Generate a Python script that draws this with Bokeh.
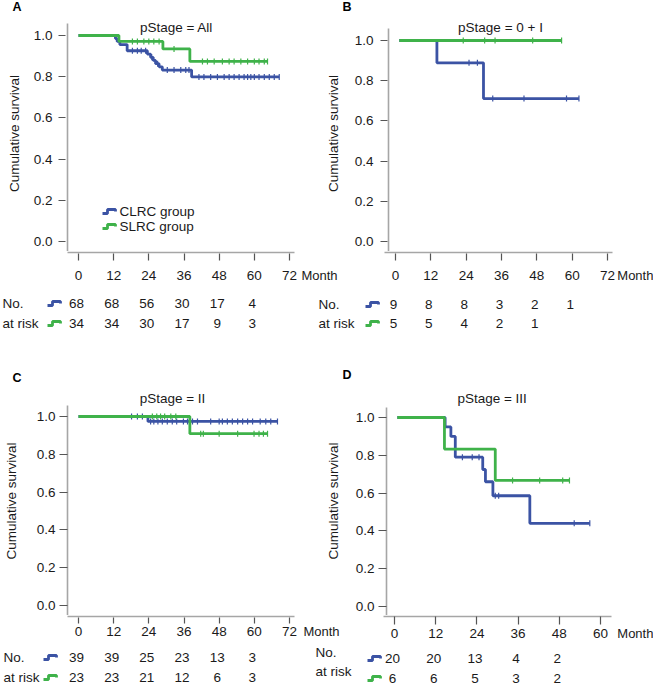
import numpy as np
from bokeh.plotting import figure
from bokeh.models import Range1d, FixedTicker, NumeralTickFormatter, LinearAxis
from bokeh.layouts import column, row
from bokeh.embed import file_html
from bokeh.resources import INLINE
from bokeh.core.properties import value

FONT = "Liberation Sans"
FS = "13.5px"
FS_UNIT = "13px"
BLUE = "#3b53a4"
GREEN = "#3fb24a"
AXIS = "#a6a6a6"
TICK = "#555555"
TXT = "#1a1a1a"
LW = 2.8

# ---------------- data ----------------
titles = ["pStage = All", "pStage = 0 + I", "pStage = II", "pStage = III"]
letters = ["A", "B", "C", "D"]
group_names = ["CLRC group", "SLRC group"]
row_labels = ["No.", "at risk"]
x_ticks_72 = [0, 12, 24, 36, 48, 60, 72]
x_ticks_60 = [0, 12, 24, 36, 48, 60]
y_ticks = [0.0, 0.2, 0.4, 0.6, 0.8, 1.0]
x_unit = "Month"

# Panel A (pStage = All)
A_clrc_t = [12.6, 13.2, 14.1, 16.6, 23.5, 24.6, 25.5, 26.3, 27.5, 28.6, 38.6]
A_clrc_s = [0.985, 0.971, 0.956, 0.926, 0.910, 0.894, 0.879, 0.863, 0.848, 0.832, 0.799]
A_clrc_end = 68.5
A_clrc_cens = [18.4, 20.1, 21.4, 22.9, 25.0, 27.0, 30.3, 32.6, 34.9, 36.6, 37.7, 41.1,
               42.8, 45.1, 47.4, 49.7, 51.4, 53.1, 54.8, 56.5, 57.7, 58.8, 60.0, 61.6,
               63.4, 65.1, 66.8, 68.5]
A_slrc_t = [13.8, 28.8, 38.0]
A_slrc_s = [0.971, 0.935, 0.874]
A_slrc_end = 64.5
A_slrc_cens = [18.4, 20.1, 22.3, 24.0, 25.7, 27.5, 32.6, 42.3, 44.0, 46.3, 49.1, 51.4,
               53.1, 55.4, 57.7, 60.0, 61.6, 63.4, 64.5]
A_risk_months = [0, 12, 24, 36, 48, 60]
A_risk_clrc = [68, 68, 56, 30, 17, 4]
A_risk_slrc = [34, 34, 30, 17, 9, 3]

# Panel B (pStage = 0 + I)
B_clrc_t = [13.0, 29.1]
B_clrc_s = [0.889, 0.711]
B_clrc_end = 62.1
B_clrc_cens = [24.1, 27.0, 32.3, 43.1, 57.8, 62.1]
B_slrc_t = []
B_slrc_s = []
B_slrc_end = 56.1
B_slrc_cens = [22.1, 29.5, 33.1, 46.1, 56.1]
B_risk_months_clrc = [0, 12, 24, 36, 48, 60]
B_risk_months_slrc = [0, 12, 24, 36, 48]
B_risk_clrc = [9, 8, 8, 3, 2, 1]
B_risk_slrc = [5, 5, 4, 2, 1]

# Panel C (pStage = II)
C_clrc_t = [23.7]
C_clrc_s = [0.974]
C_clrc_end = 67.9
C_clrc_cens = [18.1, 20.1, 21.8, 24.6, 25.7, 27.1, 28.6, 30.3, 32.0, 33.5, 35.8, 37.2,
               38.9, 40.6, 45.1, 48.0, 49.1, 50.8, 52.5, 54.3, 56.0, 57.7, 59.4, 62.0,
               63.9, 65.6, 67.9]
C_slrc_t = [38.0]
C_slrc_s = [0.909]
C_slrc_end = 64.5
C_slrc_cens = [25.2, 26.7, 28.0, 29.4, 31.5, 33.2, 41.7, 42.6, 48.0, 54.3, 59.9, 61.6,
               63.1, 64.5]
C_risk_months = [0, 12, 24, 36, 48, 60]
C_risk_clrc = [39, 39, 25, 23, 13, 3]
C_risk_slrc = [23, 23, 21, 12, 6, 3]

# Panel D (pStage = III)
D_clrc_t = [14.1, 15.8, 17.1, 25.2, 26.0, 28.2, 39.1]
D_clrc_s = [0.95, 0.90, 0.79, 0.725, 0.66, 0.586, 0.44]
D_clrc_end = 56.8
D_clrc_cens = [19.2, 22.1, 24.1, 28.9, 29.9, 52.2, 56.8]
D_slrc_t = [13.9, 28.9]
D_slrc_s = [0.833, 0.667]
D_slrc_end = 50.8
D_slrc_cens = [34.0, 42.0, 48.8, 50.8]
D_risk_months = [0, 12, 24, 36, 48]
D_risk_clrc = [20, 20, 13, 4, 2]
D_risk_slrc = [6, 6, 5, 3, 2]

# ---------------- layout geometry (pixels) ----------------
ROWS = {"top": dict(head=(0, 15), up=(15, 251), mid=(251, 288), tab=(288, 340)),
        "bot": dict(head=(340, 386), up=(386, 615), mid=(615, 645), tab=(645, 686))}
COLS = {"left": dict(head=(0, 326), up=(0, 322), mid=(0, 341), tab=(0, 314)),
        "right": dict(head=(326, 653), up=(322, 653), mid=(341, 653), tab=(314, 653))}

panels = [
    dict(letter=letters[0], title=titles[0], ticks=x_ticks_72, row="top", col="left",
         clrc=(A_clrc_t, A_clrc_s, A_clrc_end, A_clrc_cens),
         slrc=(A_slrc_t, A_slrc_s, A_slrc_end, A_slrc_cens),
         risk=((A_risk_months, A_risk_clrc), (A_risk_months, A_risk_slrc)),
         g=dict(fl=67, fr=294, ft=23, px0=78, pxN=289, py1=35, py0=241,
                letter=(12, 6), title=(176, 27),
                ytin=-2, ytout=9, ystand=6, yals=9, xtin=-1, xtout=8,
                mstand=10, month_c=319,
                rows=(303, 323), lrows=(303, 323), lx=2, icon=47),
         legend=True),
    dict(letter=letters[1], title=titles[1], ticks=x_ticks_72, row="top", col="right",
         clrc=(B_clrc_t, B_clrc_s, B_clrc_end, B_clrc_cens),
         slrc=(B_slrc_t, B_slrc_s, B_slrc_end, B_slrc_cens),
         risk=((B_risk_months_clrc, B_risk_clrc), (B_risk_months_slrc, B_risk_slrc)),
         g=dict(fl=384, fr=612, ft=28, px0=395, pxN=607, py1=40, py0=241,
                letter=(342, 6), title=(498, 27),
                ytin=-1, ytout=8, ystand=7, yals=11, xtin=-1, xtout=8,
                mstand=10, month_c=635,
                rows=(304, 323), lrows=(304, 323), lx=318, icon=365),
         legend=False),
    dict(letter=letters[2], title=titles[2], ticks=x_ticks_72, row="bot", col="left",
         clrc=(C_clrc_t, C_clrc_s, C_clrc_end, C_clrc_cens),
         slrc=(C_slrc_t, C_slrc_s, C_slrc_end, C_slrc_cens),
         risk=((C_risk_months, C_risk_clrc), (C_risk_months, C_risk_slrc)),
         g=dict(fl=67, fr=294, ft=405, px0=78, pxN=289, py1=416, py0=605,
                letter=(12, 377), title=(172, 398),
                ytin=0, ytout=8, ystand=4, yals=15, xtin=-1, xtout=7,
                mstand=3, month_c=321,
                rows=(657, 677), lrows=(657, 677), lx=3, icon=43),
         legend=False),
    dict(letter=letters[3], title=titles[3], ticks=x_ticks_60, row="bot", col="right",
         clrc=(D_clrc_t, D_clrc_s, D_clrc_end, D_clrc_cens),
         slrc=(D_slrc_t, D_slrc_s, D_slrc_end, D_slrc_cens),
         risk=((D_risk_months, D_risk_clrc), (D_risk_months, D_risk_slrc)),
         g=dict(fl=383, fr=611, ft=407, px0=394, pxN=600, py1=417, py0=606,
                letter=(342, 374), title=(490, 398),
                ytin=0, ytout=8, ystand=4, yals=12, xtin=0, xtout=8,
                mstand=4, month_c=635,
                rows=(658, 678), lrows=(652, 671), lx=315, icon=367),
         legend=False),
]

ICON = [(0, 2), (5, 2), (5, -2), (13, -2), (13, 0)]
LABEL_H = 15


def km_xy(t, s, end):
    xs = [0.0] + list(t) + [end]
    ys = [1.0] + list(s) + [s[-1] if len(s) else 1.0]
    return xs, ys


def km_at(times, t, s):
    out = []
    for c in times:
        v = 1.0
        for ti, si in zip(t, s):
            if ti <= c:
                v = si
        out.append(v)
    return out


def base_fig(w, h, **kw):
    p = figure(width=int(w), height=int(h), toolbar_location=None, output_backend="svg",
               outline_line_color=None, background_fill_color="white",
               border_fill_color="white", **kw)
    p.grid.visible = False
    return p


def txt(p, x, y, s, align="left", size=FS, style="normal", color=TXT, xoff=0):
    p.text(x=x, y=y, text=s, x_offset=xoff, text_font=value(FONT),
           text_font_size=value(size), text_font_style=value(style), text_color=color,
           text_align=align, text_baseline="middle")


def make_panel(P):
    g = P["g"]
    cx = COLS[P["col"]]
    ry = ROWS[P["row"]]
    tN = P["ticks"][-1]
    ppm = (g["pxN"] - g["px0"]) / tN
    ppu = g["py0"] - g["py1"]

    def X(px):
        return (px - g["px0"]) / ppm

    def Y(py):
        return (g["py0"] - py) / ppu

    # ---- header: panel letter ----
    L, R = cx["head"]
    T, B = ry["head"]
    h = base_fig(R - L, B - T, x_range=Range1d(0, R - L), y_range=Range1d(B - T, 0),
                 min_border=0, x_axis_location=None, y_axis_location=None)
    txt(h, [g["letter"][0] - L], [g["letter"][1] - T], [P["letter"]], size="12.5px",
        style="bold", color="black")

    # ---- upper: curves + y axis ----
    L, R = cx["up"]
    T, B = ry["up"]
    xr = Range1d(X(g["fl"]), X(g["fr"]))
    p = base_fig(R - L, B - T, x_range=xr, y_range=Range1d(Y(B), Y(T)),
                 min_border_left=g["fl"] - L, min_border_right=R - g["fr"],
                 min_border_top=0, min_border_bottom=0, x_axis_location=None)
    ya = p.yaxis[0]
    ya.bounds = (Y(B), Y(g["ft"]))
    ya.ticker = FixedTicker(ticks=y_ticks)
    ya.formatter = NumeralTickFormatter(format="0.0")
    ya.major_tick_in = g["ytin"]
    ya.major_tick_out = g["ytout"]
    ya.major_label_standoff = g["ystand"]
    ya.minor_tick_line_color = None
    ya.axis_line_color = AXIS
    ya.axis_line_width = 1.6
    ya.major_tick_line_color = TICK
    ya.major_tick_line_width = 1.2
    ya.major_label_text_font = FONT
    ya.major_label_text_font_size = FS
    ya.major_label_text_color = TXT
    ya.axis_label = "Cumulative survival"
    ya.axis_label_text_font = FONT
    ya.axis_label_text_font_size = FS
    ya.axis_label_text_font_style = "normal"
    ya.axis_label_text_color = TXT
    ya.axis_label_standoff = g["yals"]

    for (t, s, end, cens), color in ((P["clrc"], BLUE), (P["slrc"], GREEN)):
        xs, ys = km_xy(t, s, end)
        p.step(xs, ys, mode="after", line_color=color, line_width=LW)
        p.scatter(cens, km_at(cens, t, s), marker="dash", angle=np.pi / 2, size=6,
                  line_color=color, line_width=1.2)

    txt(p, [X(g["title"][0])], [Y(g["title"][1])], [P["title"]], align="center")

    if P["legend"]:
        for name, color, ly in zip(group_names, (BLUE, GREEN), (211, 226)):
            p.line([X(102 + dx) for dx, dy in ICON], [Y(ly + dy) for dx, dy in ICON],
                   line_color=color, line_width=LW)
            txt(p, [X(119)], [Y(ly)], [name])

    # ---- mid: x axis line, ticks, tick labels + unit ----
    L, R = cx["mid"]
    T, B = ry["mid"]
    m = base_fig(R - L, B - T, x_range=Range1d(X(g["fl"]), X(R)), y_range=Range1d(0, 1),
                 min_border_left=g["fl"] - L, min_border_right=0,
                 min_border_top=0, min_border_bottom=B - T - 1, y_axis_location=None)
    ma = m.xaxis[0]
    ma.bounds = (X(g["fl"]), X(g["fr"]))
    ma.ticker = FixedTicker(ticks=P["ticks"])
    ma.axis_line_color = AXIS
    ma.axis_line_width = 1.6
    ma.major_tick_line_color = TICK
    ma.major_tick_line_width = 1.2
    ma.minor_tick_line_color = None
    ma.major_tick_in = g["xtin"]
    ma.major_tick_out = g["xtout"]
    ma.major_label_standoff = g["mstand"]
    ma.major_label_text_font = FONT
    ma.major_label_text_font_size = FS
    ma.major_label_text_color = TXT
    mpos = round(X(g["month_c"]), 2)
    ua = LinearAxis(ticker=FixedTicker(ticks=[mpos]), major_label_overrides={mpos: x_unit},
                    axis_line_color=None, major_tick_line_color=None,
                    minor_tick_line_color=None, major_tick_in=0, major_tick_out=0,
                    major_label_standoff=-LABEL_H, major_label_text_font=FONT,
                    major_label_text_font_size=FS_UNIT, major_label_text_color=TXT)
    m.add_layout(ua, "below")

    # ---- table: numbers at risk ----
    L, R = cx["tab"]
    T, B = ry["tab"]
    tb = base_fig(R - L, B - T, x_range=Range1d(X(L), X(R)), y_range=Range1d(B - T, 0),
                  min_border=0, x_axis_location=None, y_axis_location=None)
    for (months, counts), color, ry_, lry, lab in zip(P["risk"], (BLUE, GREEN), g["rows"],
                                                     g["lrows"], row_labels):
        txt(tb, months, [ry_ - T] * len(months), [str(c) for c in counts],
            align="center", xoff=-2)
        txt(tb, [X(g["lx"])], [lry - T], [lab])
        tb.line([X(g["icon"] + dx) for dx, dy in ICON], [ry_ - T + dy for dx, dy in ICON],
                line_color=color, line_width=LW)
    return h, p, m, tb


figs = [make_panel(P) for P in panels]
fa, fb, fc, fd = figs

layout = column(row(fa[0], fb[0]), row(fa[1], fb[1]), row(fa[2], fb[2]), row(fa[3], fb[3]),
                row(fc[0], fd[0]), row(fc[1], fd[1]), row(fc[2], fd[2]), row(fc[3], fd[3]))

open("out.html", "w").write(file_html(layout, INLINE))
